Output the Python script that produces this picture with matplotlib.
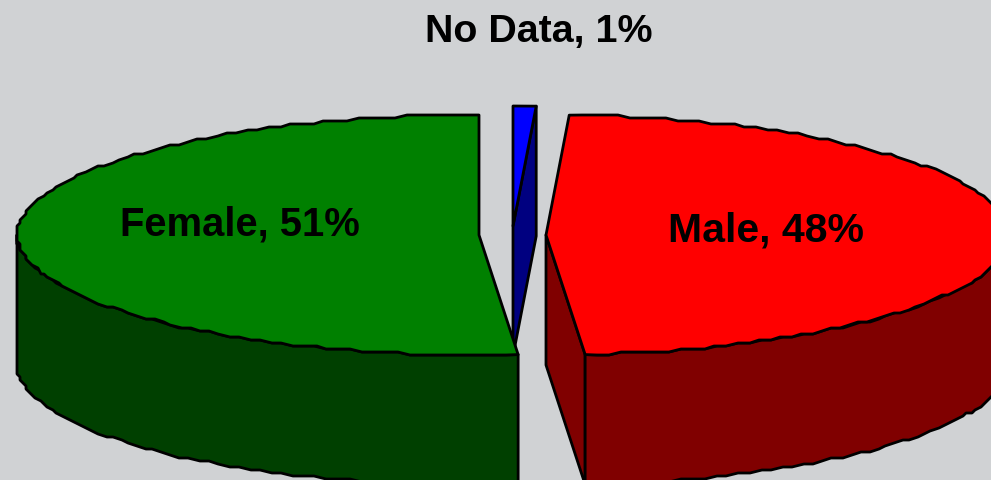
import numpy as np
import matplotlib
matplotlib.use("Agg")
import matplotlib.pyplot as plt
from matplotlib.patches import Polygon

categories = ["Female", "Male", "No Data"]
shares = [51.35, 47.85, 0.8]
percent_labels = ["51%", "48%", "1%"]

face_colors = ["#008000", "#FF0000", "#0000FF"]
side_colors = ["#004000", "#800000", "#000080"]
background = "#D0D2D4"

RX, RY = 462, 120
DEPTH = 130
EDGE = 2.0
# exploded position of each slice's apex, pixels
apex = {"Female": (479, 235), "Male": (546, 235), "No Data": (513, 226)}


def rim(cat, a):
    """Rim point for clockwise angle a (deg from 12 o'clock)."""
    cx, cy = apex[cat]
    a = np.radians(a)
    return np.column_stack([cx + RX * np.sin(a), cy - RY * np.cos(a)])


def arc(cat, a0, a1, step=1.5, grid=3.0):
    """Rim snapped to a pixel grid around the apex, gives the stepped edge of the original."""
    n = max(2, int(abs(a1 - a0) / step) + 1)
    pts = rim(cat, np.linspace(a0, a1, n))
    c = np.array(apex[cat], dtype=float)
    inner = c + np.round((pts[1:-1] - c) / grid) * grid
    return np.vstack([pts[:1], inner, pts[-1:]])


def poly(ax, pts, color):
    ax.add_patch(Polygon(pts, closed=True, facecolor=color, edgecolor="black",
                         linewidth=EDGE, joinstyle="round"))


def draw_slice(ax, cat, a0, a1, face, side):
    c = np.array([apex[cat]], dtype=float)
    down = np.array([0, DEPTH])
    # flat cut faces, only the ones turned towards the viewer
    if cat in ("Male", "No Data"):
        p = rim(cat, a1)
        poly(ax, np.vstack([c, p, p + down, c + down]), side)
    # outer wall on the front half of the rim
    lo, hi = max(a0, 90), min(a1, 270)
    if lo < hi:
        w = arc(cat, lo, hi)
        poly(ax, np.vstack([w, w[::-1] + down]), side)
    poly(ax, np.vstack([c, arc(cat, a0, a1)]), face)


fig = plt.figure(figsize=(9.91, 4.8), dpi=100, facecolor=background)
ax = fig.add_axes([0, 0, 1, 1])
ax.set_xlim(0, 991)
ax.set_ylim(480, 0)
ax.axis("off")

# clockwise from 12 o'clock: No Data, Male, Female
spans = {}
start = 0.0
for i in [2, 1, 0]:
    end = start + shares[i] * 3.6
    spans[i] = (start, end)
    start = end

for i in [2, 1, 0]:
    draw_slice(ax, categories[i], spans[i][0], spans[i][1], face_colors[i], side_colors[i])

font = dict(family="Liberation Sans", fontweight="bold", color="black",
            ha="center", va="center")
ax.text(240, 225, f"{categories[0]}, {percent_labels[0]}", fontsize=28.8, **font)
ax.text(766, 231, f"{categories[1]}, {percent_labels[1]}", fontsize=29.5, **font)
ax.text(539, 32.5, f"{categories[2]}, {percent_labels[2]}", fontsize=28.4, **font)

fig.savefig("out.png", dpi=100, facecolor=background)
